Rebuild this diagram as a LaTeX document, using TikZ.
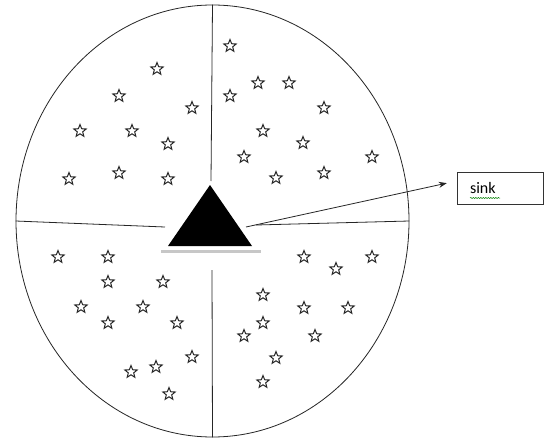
\documentclass[tikz,border=0pt]{standalone}
\usepackage{fontspec}
\newfontfamily\calib{Carlito}
\usetikzlibrary{shapes.geometric,arrows.meta,decorations.pathmorphing}
\tikzset{
  starmark/.style={star,star points=5,star point ratio=2.3,minimum size=13pt,inner sep=0pt,draw=black!85,line width=1pt,fill=white},
  divider/.style={draw=black!85,line width=0.8pt},
}
\begin{document}
\begin{tikzpicture}[x=1pt,y=-1pt]
\useasboundingbox[fill=white] (0,0) rectangle (545,441);
% field
\node[ellipse,draw=black!85,line width=0.8pt,minimum width=393pt,minimum height=432pt,inner sep=0pt] (field) at (212.5,221) {};
% dividers
\coordinate (vtop) at (211,181);
\coordinate (vbot) at (212,270);
\coordinate (hleft) at (165,227);
\coordinate (hright) at (256,225);
\draw[divider] (field.north) -- (vtop);
\draw[divider] (vbot) -- (field.south);
\draw[divider] (field.west) -- (hleft);
\draw[divider] (hright) -- (field.east);
% sink triangle
\coordinate (apex) at (210,185);
\coordinate (bl) at (168,246);
\coordinate (br) at (252,246);
\fill[black] (apex) -- (br) -- (bl) -- cycle;
\fill[black!22] (161,250) rectangle (261,253);
\coordinate (arrstart) at (246,227);
% sink box
\node[draw=black!80,line width=0.9pt,minimum width=86pt,minimum height=32pt,text width=60pt,align=left,inner sep=0pt,font=\calib\fontsize{16}{18}\selectfont] (sink) at (500,188) {sink};
\draw[green!50!black,line width=0.5pt,decorate,decoration={snake,amplitude=0.6pt,segment length=2.5pt}] (470,198) -- (500,198);
\draw[black!85,line width=0.8pt,-{Stealth[length=8pt,width=6pt]},shorten >=10pt] (arrstart) -- (sink.west |- 0,181);
% stars
\foreach \x/\y [count=\i] in {
 157/69,119/96,192/108,80/131,132/131,168/144,69/179,119/173,168/179,
 230/46,258/83,289/83,230/96,324/108,263/131,303/143,244/157,372/157,276/178,324/173,
 58/257,108/257,108/282,163/282,81/307,143/307,108/323,177/323,192/357,131/372,156/367,169/394,
 304/257,336/269,372/257,263/295,304/308,348/308,263/323,244/336,315/336,276/358,263/382}
 \node[starmark] (s\i) at (\x,\y) {};
\end{tikzpicture}
\end{document}
